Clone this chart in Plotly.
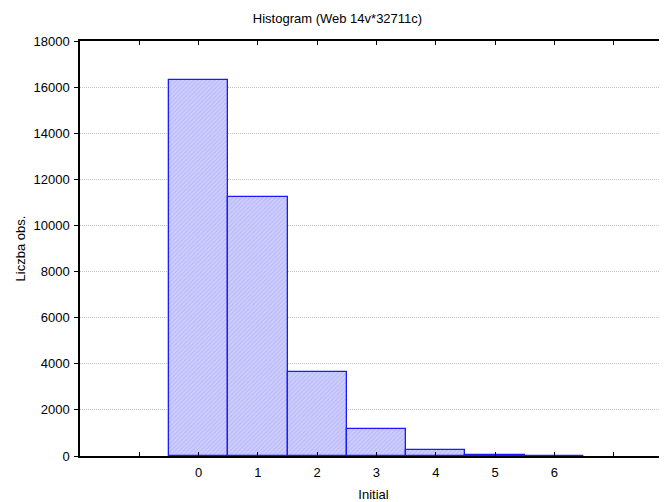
import plotly.graph_objects as go

categories = [0, 1, 2, 3, 4, 5, 6]
counts = [16330, 11220, 3640, 1185, 265, 45, 12]
tick_vals = [-1, 0, 1, 2, 3, 4, 5, 6, 7]
tick_text = ["", "0", "1", "2", "3", "4", "5", "6", ""]

fig = go.Figure()
fig.add_trace(go.Bar(
    x=categories, y=counts, width=1,
    marker=dict(
        color="#c4c4fb",
        line=dict(color="#1a1aff", width=1.3),
        pattern=dict(shape="/", size=3, solidity=0.35, fgcolor="#a2a2ea", bgcolor="#cdcdff"),
    ),
    showlegend=False,
))

# page body has an 8px offset; figure sized so the plot area lands where the reference has it
fig.update_layout(
    width=659, height=494,
    margin=dict(l=72, r=0, t=33, b=46),
    paper_bgcolor="white", plot_bgcolor="white",
    font=dict(family="Liberation Sans, Arial, sans-serif", size=13, color="black"),
    title=dict(text="Histogram (Web 14v*32711c)", x=0.5, xanchor="center", y=0.979, yanchor="middle",
               font=dict(size=13)),
    bargap=0,
)
fig.update_xaxes(
    range=[-2, 7.9], tickvals=tick_vals, ticktext=tick_text,
    ticks="inside", ticklen=4, tickcolor="black", ticklabelstandoff=4,
    showline=True, linecolor="black", linewidth=1.5, mirror="ticks",
    showgrid=False, zeroline=False, automargin=False,
    title=dict(text="Initial", font=dict(size=13), standoff=12),
)
fig.update_yaxes(
    range=[0, 18000], dtick=2000, tickformat="d",
    ticks="outside", ticklen=4, tickcolor="black", ticklabelstandoff=2,
    showline=True, linecolor="black", linewidth=1.5,
    showgrid=True, gridcolor="#c4c4c4", griddash="1px,1px", gridwidth=1,
    zeroline=False, automargin=False,
    title=dict(text="Liczba obs.", font=dict(size=13), standoff=5),
)

fig.write_html("out.html")
